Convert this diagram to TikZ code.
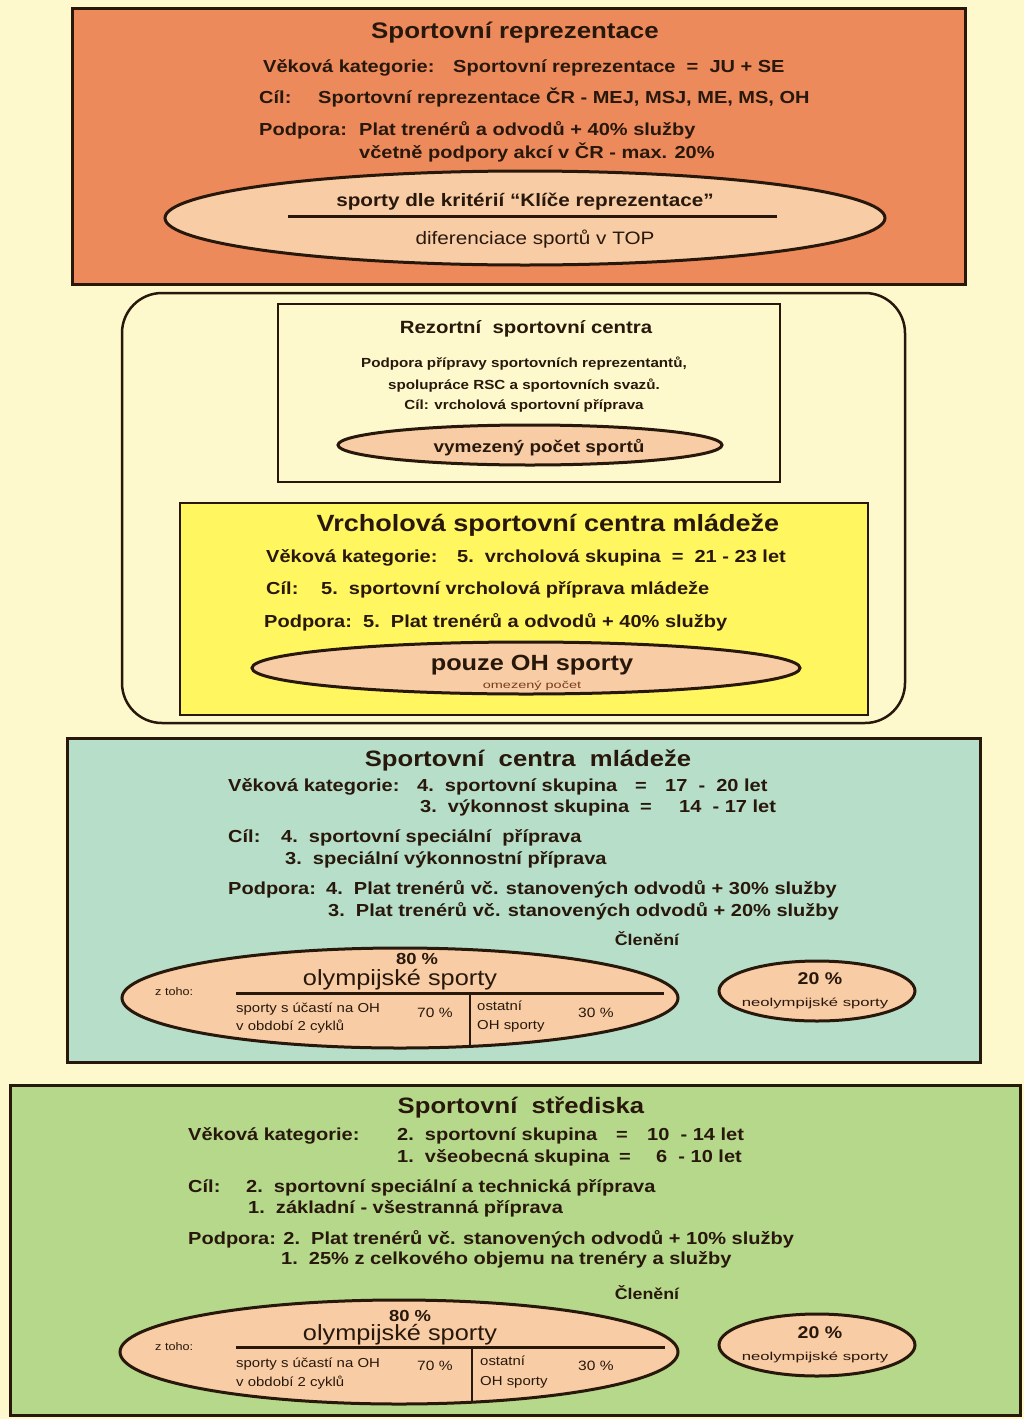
\documentclass[tikz,border=0pt]{standalone}
\usepackage{fontspec}
\setmainfont{Liberation Sans}[FakeStretch=1.15]
\newfontfamily\widefont{Liberation Sans}[FakeStretch=1.45]
\usetikzlibrary{shapes.geometric}
\definecolor{bg}{RGB}{254,249,204}
\definecolor{ink}{RGB}{40,24,12}
\definecolor{orng}{RGB}{236,138,92}
\definecolor{peach}{RGB}{248,204,164}
\definecolor{yel}{RGB}{255,246,96}
\definecolor{teal}{RGB}{182,222,200}
\definecolor{grn}{RGB}{182,216,138}
\definecolor{brn}{RGB}{120,60,30}
\newcommand\fsz[1]{\fontsize{#1}{#1}\selectfont}
\begin{document}
\begin{tikzpicture}[x=1pt,y=-1pt,
  panel/.style={draw=ink, line width=3pt, rectangle, inner sep=0pt},
  inbox/.style={draw=ink, line width=2pt, rectangle, inner sep=0pt},
  oval/.style={draw=ink, line width=3pt, ellipse, fill=peach, inner sep=0pt},
  rule/.style={draw=ink, line width=3pt},
  thin/.style={draw=ink, line width=1.6pt},
  lbl/.style={inner sep=0pt, anchor=mid west, yshift=-4pt, text=ink, font=\bfseries\fsz{17.4}},
  hd/.style={inner sep=0pt, anchor=mid, yshift=-5pt, text=ink},
  hs/.style={inner sep=0pt, anchor=mid, yshift=-3.5pt, text=ink},
  sm/.style={inner sep=0pt, anchor=mid west, yshift=-3pt, text=ink, font=\fsz{13}}]
\fill[bg] (0,0) rectangle (1024,1419);
\useasboundingbox (0,0) rectangle (1024,1419);

% ---------- top box ----------
\node (top) [panel, fill=orng, minimum width=893pt, minimum height=276pt] at (518.5,146) {};
\node (t1) [hd, font=\bfseries\fsz{22.5}] at (515,31) {Sportovní reprezentace};
\node (t2) [lbl] at (263,66) {Věková kategorie:};
\node (t3) [lbl] at (453,66) {Sportovní reprezentace \ = \ JU + SE};
\node (t4) [lbl] at (259,97) {Cíl:};
\node (t5) [lbl] at (318,97) {Sportovní reprezentace ČR - MEJ, MSJ, ME, MS, OH};
\node (t6) [lbl] at (259,129) {Podpora:};
\node (t7) [lbl] at (359,129) {Plat trenérů a odvodů + 40\% služby};
\node (t8) [lbl] at (359,152) {včetně podpory akcí v ČR - max. 20\%};
\node (te) [oval, minimum width=720pt, minimum height=94pt] at (525,218) {};
\coordinate (tra) at (288,216);
\coordinate (trb) at (777,216);
\draw[rule] (tra) -- (trb);
\node (k1) [hd, font=\bfseries\fsz{18}] at (525,199) {sporty dle kritérií “Klíče reprezentace”};
\node (k2) [hd, font=\fsz{18}] at (535,237) {diferenciace sportů v TOP};

% ---------- middle container ----------
\node (mid) [panel, rounded corners=40pt, line width=2.5pt, fill=bg, minimum width=783pt, minimum height=430pt] at (513.5,508) {};
\node (rsc) [inbox, fill=bg, minimum width=502pt, minimum height=178pt] at (529,393) {};
\node (r1) [hd, font=\bfseries\fsz{17.7}] at (526,326) {Rezortní \ sportovní centra};
\node (r2) [hs, font=\bfseries\fsz{13.2}] at (524,361) {Podpora přípravy sportovních reprezentantů,};
\node (r3) [hs, font=\bfseries\fsz{13.2}] at (524,383) {spolupráce RSC a sportovních svazů.};
\node (r4) [hs, font=\bfseries\fsz{13.2}] at (524,403) {Cíl: vrcholová sportovní příprava};
\node (re) [oval, minimum width=384pt, minimum height=40pt] at (530,445) {};
\node (r5) [hd, font=\bfseries\fsz{16.5}] at (539,445) {vymezený počet sportů};

\node (vsc) [inbox, fill=yel, minimum width=688pt, minimum height=212pt] at (524,609) {};
\node (v1) [hd, font=\bfseries\fsz{23.5}] at (548,524) {Vrcholová sportovní centra mládeže};
\node (v2) [lbl] at (266,556) {Věková kategorie:};
\node (v3) [lbl] at (457,556) {5.\ \ vrcholová skupina \ = \ 21 - 23 let};
\node (v4) [lbl] at (266,588) {Cíl:};
\node (v5) [lbl] at (321,588) {5.\ \ sportovní vrcholová příprava mládeže};
\node (v6) [lbl] at (264,621) {Podpora:\ \ 5.\ \ Plat trenérů a odvodů + 40\% služby};
\node (ve) [oval, minimum width=548pt, minimum height=52pt] at (526,668) {};
\node (v8) [hd, font=\bfseries\fsz{22}] at (532,663) {pouze OH sporty};
\node (v9) [hs, text=brn, font=\widefont\fsz{10}] at (532,682) {omezený počet};

% ---------- teal box ----------
\node (scm) [panel, fill=teal, minimum width=913pt, minimum height=324pt] at (523.5,900) {};
\node (s1) [hd, font=\bfseries\fsz{22.3}] at (528,759) {Sportovní \ centra \ mládeže};
\node (s2) [lbl] at (228,785) {Věková kategorie:};
\node (s3) [lbl] at (417,785) {4.\ \ sportovní skupina};
\node (s4) [lbl] at (635,785) {=};
\node (s5) [lbl] at (665,785) {17 \ - \ 20 let};
\node (s6) [lbl] at (420,806) {3.\ \ výkonnost skupina};
\node (s7) [lbl] at (640,806) {=};
\node (s8) [lbl] at (679,806) {14 \ - 17 let};
\node (s9) [lbl] at (228,836) {Cíl:};
\node (s10) [lbl] at (281,836) {4.\ \ sportovní speciální \ příprava};
\node (s11) [lbl] at (285,858) {3.\ \ speciální výkonnostní příprava};
\node (s12) [lbl] at (228,888) {Podpora:};
\node (s13) [lbl] at (326,888) {4.\ \ Plat trenérů vč. stanovených odvodů + 30\% služby};
\node (s14) [lbl] at (328,910) {3.\ \ Plat trenérů vč. stanovených odvodů + 20\% služby};
\node (s15) [hd, font=\bfseries\fsz{15.5}] at (647,938) {Členění};
\node (se) [oval, minimum width=556pt, minimum height=100pt] at (400,998) {};
\coordinate (sha) at (236,993);
\coordinate (shb) at (664,993);
\coordinate (sva) at (470,993);
\coordinate (svb) at (470,1046);
\draw[rule] (sha) -- (shb);
\draw[thin] (sva) -- (svb);
\node (s16) [hd, font=\bfseries\fsz{16}] at (417,957) {80 \%};
\node (s17) [hd, font=\fsz{22}] at (400,978) {olympijské sporty};
\node (s18) [sm, font=\fsz{11}] at (155,990) {z toho:};
\node (s19) [sm] at (236,1007) {sporty s účastí na OH};
\node (s20) [sm] at (236,1025) {v období 2 cyklů};
\node (s21) [sm, font=\fsz{13.5}] at (417,1012) {70 \%};
\node (s22) [sm] at (477,1005) {ostatní};
\node (s23) [sm] at (477,1024) {OH sporty};
\node (s24) [sm, font=\fsz{13.5}] at (578,1012) {30 \%};
\node (sn) [oval, minimum width=196pt, minimum height=60pt] at (817,991) {};
\node (s25) [hd, font=\bfseries\fsz{17}] at (820,977) {20 \%};
\node (s26) [hs, font=\widefont\fsz{11.5}] at (815,1000) {neolympijské sporty};

% ---------- green box ----------
\node (ss) [panel, fill=grn, minimum width=1010pt, minimum height=330pt] at (515,1250) {};
\node (g1) [hd, font=\bfseries\fsz{22.3}] at (521,1106) {Sportovní \ střediska};
\node (g2) [lbl] at (188,1134) {Věková kategorie:};
\node (g3) [lbl] at (397,1134) {2.\ \ sportovní skupina};
\node (g4) [lbl] at (616,1134) {=};
\node (g5) [lbl] at (647,1134) {10 \ - 14 let};
\node (g6) [lbl] at (397,1156) {1.\ \ všeobecná skupina};
\node (g7) [lbl] at (619,1156) {=};
\node (g8) [lbl] at (656,1156) {6 \ - 10 let};
\node (g9) [lbl] at (188,1186) {Cíl:};
\node (g10) [lbl] at (246,1186) {2.\ \ sportovní speciální a technická příprava};
\node (g11) [lbl] at (248,1207) {1.\ \ základní - všestranná příprava};
\node (g12) [lbl] at (188,1238) {Podpora: 2.\ \ Plat trenérů vč. stanovených odvodů + 10\% služby};
\node (g14) [lbl] at (281,1258) {1.\ \ 25\% z celkového objemu na trenéry a služby};
\node (g15) [hd, font=\bfseries\fsz{15.5}] at (647,1292) {Členění};
\node (ge) [oval, minimum width=558pt, minimum height=104pt] at (399,1352) {};
\coordinate (gha) at (236,1347);
\coordinate (ghb) at (665,1347);
\coordinate (gva) at (472,1347);
\coordinate (gvb) at (472,1401);
\draw[rule] (gha) -- (ghb);
\draw[thin] (gva) -- (gvb);
\node (g16) [hd, font=\bfseries\fsz{16}] at (410,1314) {80 \%};
\node (g17) [hd, font=\fsz{22}] at (400,1333) {olympijské sporty};
\node (g18) [sm, font=\fsz{11}] at (155,1345) {z toho:};
\node (g19) [sm] at (236,1362) {sporty s účastí na OH};
\node (g20) [sm] at (236,1381) {v období 2 cyklů};
\node (g21) [sm, font=\fsz{13.5}] at (417,1365) {70 \%};
\node (g22) [sm] at (480,1360) {ostatní};
\node (g23) [sm] at (480,1380) {OH sporty};
\node (g24) [sm, font=\fsz{13.5}] at (578,1365) {30 \%};
\node (gn) [oval, minimum width=196pt, minimum height=62pt] at (817,1345) {};
\node (g25) [hd, font=\bfseries\fsz{17}] at (820,1331) {20 \%};
\node (g26) [hs, font=\widefont\fsz{11.5}] at (815,1354) {neolympijské sporty};
\end{tikzpicture}
\end{document}
